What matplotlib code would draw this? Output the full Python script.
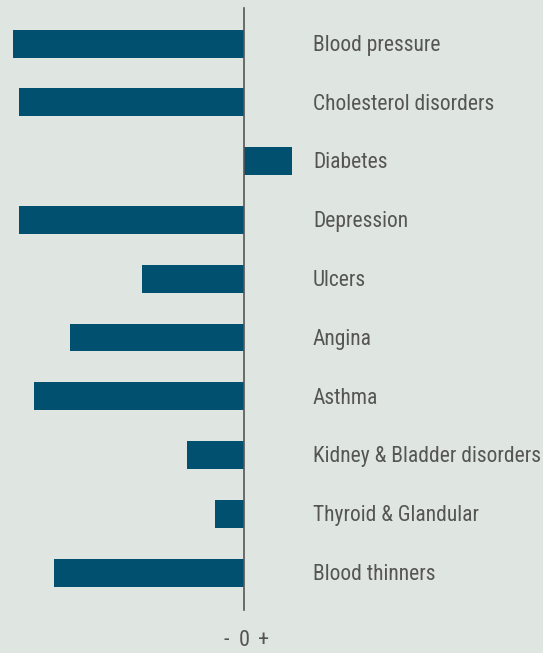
import matplotlib.pyplot as plt

conditions = ['Blood pressure', 'Cholesterol disorders', 'Diabetes', 'Depression',
              'Ulcers', 'Angina', 'Asthma', 'Kidney & Bladder disorders',
              'Thyroid & Glandular', 'Blood thinners']
# relative change (arbitrary units)
values = [-231, -225, 48, -225, -102, -174, -210, -57, -29, -190]
tick_labels = ['-', '0', '+']

bg = '#dfe6e2'
bar_col = '#02506f'
txt_col = '#555555'

plt.rcParams['font.family'] = ['Roboto Condensed', 'Lato', 'DejaVu Sans']

fig = plt.figure(figsize=(5.43, 6.53), dpi=100, facecolor=bg)
ax = fig.add_axes([0, 0, 1, 1])
ax.set_facecolor(bg)

ypos = list(range(len(conditions)))
ax.barh(ypos, values, height=0.476, color=bar_col)

ax.set_xlim(-244, 299)
ax.set_ylim(10.366, -0.74)

ax.plot([0, 0], [-0.604, 9.633], color='#555555', lw=1.2)

for y, name in zip(ypos, conditions):
    ax.text(69, y + 0.03, name, va='center', ha='left', fontsize=15.5, color=txt_col)

for x, t in zip([-18, 0, 20], tick_labels):
    ax.text(x, 10.16, t, ha='center', va='center', fontsize=16, color=txt_col)

ax.axis('off')
fig.savefig('out.png', dpi=100, facecolor=bg)
